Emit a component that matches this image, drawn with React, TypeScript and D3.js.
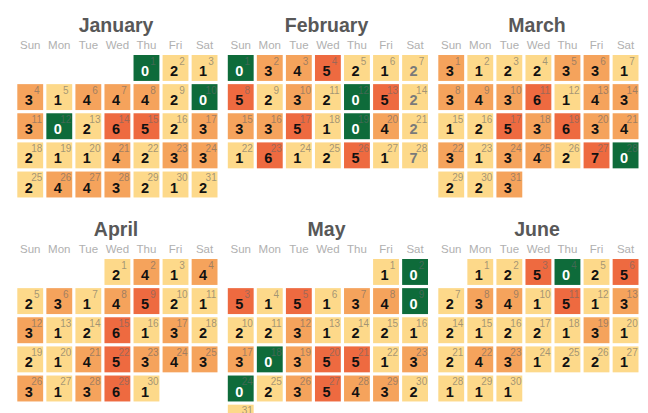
import React from "react";
import * as d3 from "d3";

const YEAR = 2015;
const monthNames = ["January", "February", "March", "April", "May", "June"];
const weekdays = ["Sun", "Mon", "Tue", "Wed", "Thu", "Fri", "Sat"];

const janValues = [0, 2, 1, 3, 1, 4, 4, 4, 2, 0, 3, 0, 2, 6, 5, 2, 3, 2, 1, 1, 4, 2, 3, 3, 2, 4, 4, 3, 2, 1, 2];
const febValues = [0, 3, 4, 5, 2, 1, 2, 5, 2, 3, 2, 0, 5, 2, 3, 3, 5, 1, 0, 4, 2, 1, 6, 1, 2, 5, 1, 7];
const marValues = [3, 1, 2, 2, 3, 3, 1, 3, 4, 3, 6, 1, 4, 3, 1, 2, 5, 3, 6, 3, 4, 3, 1, 3, 4, 2, 7, 0, 2, 2, 3];
const aprValues = [2, 4, 1, 4, 2, 3, 1, 4, 5, 2, 1, 3, 1, 2, 6, 1, 3, 2, 2, 1, 4, 5, 3, 4, 3, 3, 1, 3, 6, 1];
const mayValues: (number | null)[] = [1, 0, 5, 1, 5, 1, 3, 4, 0, 2, 2, 3, 1, 2, 2, 1, 3, 0, 3, 5, 5, 1, 3, 0, 2, 3, 5, 4, 3, 2, null];
const junValues = [1, 2, 5, 0, 2, 5, 2, 3, 4, 1, 5, 1, 3, 2, 1, 2, 2, 1, 3, 1, 2, 4, 3, 1, 2, 2, 1, 1, 1, 1];

// days whose values are shown muted (incomplete)
const febMutedDays = [7, 14, 21, 28];

const monthValues = [janValues, febValues, marValues, aprValues, mayValues, junValues];
const monthMuted: number[][] = [[], febMutedDays, [], [], [], []];

const colorBins = [0, 1, 3, 5];
const colorRange = ["#0e6b3a", "#fdd98a", "#f5a35c", "#ee6a40"];
const mutedColor = "#fdd98a";

const W = 648;
const H = 413;
const STEP = 28.6;
const monthX = [17.3, 227.8, 438.3];
const monthY = [55, 259];

export default function App() {
  const xBand = d3.scaleBand<string>().domain(weekdays).range([0, STEP * 7]).paddingInner(0.11).paddingOuter(0);
  const yBand = d3.scaleBand<number>().domain(d3.range(6)).range([0, STEP * 6]).paddingInner(0.11).paddingOuter(0);
  const color = d3.scaleThreshold<number, string>().domain(colorBins.slice(1)).range(colorRange);
  const bw = xBand.bandwidth();
  const bh = yBand.bandwidth();

  return (
    <svg
      width={W}
      height={H}
      style={{ position: "absolute", left: 0, top: 0, background: "#fff" }}
    >
      {monthValues.map((vals, mi) => {
        const ox = monthX[mi % 3];
        const oy = monthY[Math.floor(mi / 3)];
        const first = new Date(YEAR, mi, 1).getDay();
        const width = STEP * 7 - (STEP - bw);
        return (
          <g key={mi} transform={`translate(${ox},${oy})`}>
            <text
              x={width / 2}
              y={-23}
              textAnchor="middle"
              fontFamily="'Liberation Sans', Arial, sans-serif"
              fontWeight="bold"
              fontSize={19.5}
              fill="#585858"
            >
              {monthNames[mi]}
            </text>
            {weekdays.map((w) => (
              <text
                key={w}
                x={(xBand(w) as number) + bw / 2}
                y={-6}
                textAnchor="middle"
                fontFamily="'Liberation Sans Narrow', 'Liberation Sans', sans-serif"
                fontSize={11.5}
                fill="#b0b0b0"
              >
                {w}
              </text>
            ))}
            {vals.map((v, i) => {
              const day = i + 1;
              const idx = first + i;
              const col = weekdays[idx % 7];
              const row = Math.floor(idx / 7);
              const x = xBand(col) as number;
              const y = yBand(row) as number;
              const muted = monthMuted[mi].includes(day);
              const fill = v === null || muted ? mutedColor : color(v);
              const textFill = muted ? "#7a7a7a" : v === 0 ? "#ffffff" : "#111";
              return (
                <g key={day} transform={`translate(${x},${y})`}>
                  <rect width={bw} height={bh} fill={fill} />
                  <text
                    x={19.5}
                    y={9.5}
                    textAnchor="middle"
                    fontFamily="'Liberation Sans Narrow', 'Liberation Sans', sans-serif"
                    fontSize={10}
                    fill="#666"
                    fillOpacity={0.6}
                  >
                    {day}
                  </text>
                  {v !== null && (
                    <text
                      x={11.5}
                      y={21}
                      textAnchor="middle"
                      fontFamily="'Liberation Sans', Arial, sans-serif"
                      fontWeight="bold"
                      fontSize={14.5}
                      fill={textFill}
                    >
                      {v}
                    </text>
                  )}
                </g>
              );
            })}
          </g>
        );
      })}
    </svg>
  );
}
